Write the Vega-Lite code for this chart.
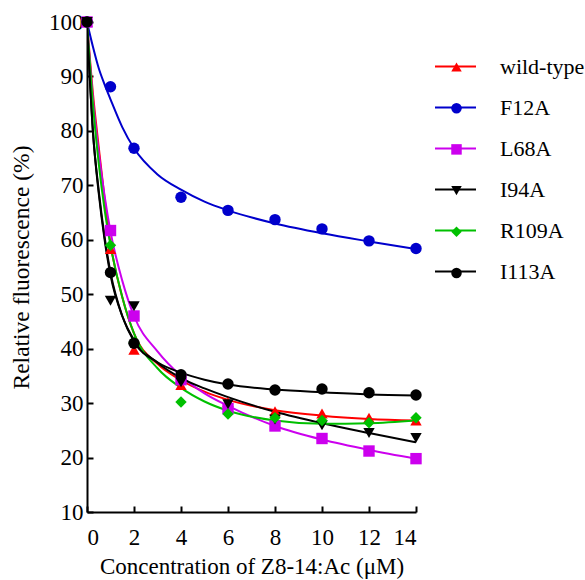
{
  "$schema": "https://vega.github.io/schema/vega-lite/v6.json",
  "autosize": {"type": "none"},
  "width": 329,
  "height": 490,
  "padding": {"left": 87, "top": 22, "right": 169, "bottom": 68},
  "background": "white",
  "config": {"view": {"stroke": null}, "font": "Liberation Serif"},
  "datasets": {
    "fit": [
      {"series": "wild-type", "x": 0, "y": 100}, {"series": "wild-type", "x": 0.25, "y": 87}, {"series": "wild-type", "x": 0.5, "y": 77}, {"series": "wild-type", "x": 0.75, "y": 67.5}, {"series": "wild-type", "x": 1, "y": 59.3}, {"series": "wild-type", "x": 1.5, "y": 49.5}, {"series": "wild-type", "x": 2, "y": 42.8}, {"series": "wild-type", "x": 3, "y": 37.2}, {"series": "wild-type", "x": 4, "y": 34.2}, {"series": "wild-type", "x": 5, "y": 32.1}, {"series": "wild-type", "x": 6, "y": 30.6}, {"series": "wild-type", "x": 8, "y": 28.7}, {"series": "wild-type", "x": 10, "y": 27.7}, {"series": "wild-type", "x": 12, "y": 27.1}, {"series": "wild-type", "x": 14, "y": 26.8},
      {"series": "F12A", "x": 0, "y": 100}, {"series": "F12A", "x": 0.25, "y": 95.5}, {"series": "F12A", "x": 0.5, "y": 91.5}, {"series": "F12A", "x": 0.75, "y": 88.5}, {"series": "F12A", "x": 1, "y": 85.8}, {"series": "F12A", "x": 1.5, "y": 80.7}, {"series": "F12A", "x": 2, "y": 76.8}, {"series": "F12A", "x": 3, "y": 72}, {"series": "F12A", "x": 4, "y": 69.2}, {"series": "F12A", "x": 5, "y": 67}, {"series": "F12A", "x": 6, "y": 65.4}, {"series": "F12A", "x": 8, "y": 63}, {"series": "F12A", "x": 10, "y": 61.2}, {"series": "F12A", "x": 12, "y": 59.7}, {"series": "F12A", "x": 14, "y": 58.3},
      {"series": "L68A", "x": 0, "y": 100}, {"series": "L68A", "x": 0.25, "y": 86}, {"series": "L68A", "x": 0.5, "y": 76}, {"series": "L68A", "x": 0.75, "y": 68}, {"series": "L68A", "x": 1, "y": 61.5}, {"series": "L68A", "x": 1.5, "y": 52.5}, {"series": "L68A", "x": 2, "y": 46}, {"series": "L68A", "x": 3, "y": 39.5}, {"series": "L68A", "x": 4, "y": 35}, {"series": "L68A", "x": 5, "y": 31.8}, {"series": "L68A", "x": 6, "y": 29.5}, {"series": "L68A", "x": 8, "y": 25.8}, {"series": "L68A", "x": 10, "y": 23.3}, {"series": "L68A", "x": 12, "y": 21.4}, {"series": "L68A", "x": 14, "y": 19.8},
      {"series": "I94A", "x": 0, "y": 100}, {"series": "I94A", "x": 0.25, "y": 80}, {"series": "I94A", "x": 0.5, "y": 68.5}, {"series": "I94A", "x": 0.75, "y": 60}, {"series": "I94A", "x": 1, "y": 53.5}, {"series": "I94A", "x": 1.5, "y": 46}, {"series": "I94A", "x": 2, "y": 41.6}, {"series": "I94A", "x": 3, "y": 37.4}, {"series": "I94A", "x": 4, "y": 34.6}, {"series": "I94A", "x": 5, "y": 32.7}, {"series": "I94A", "x": 6, "y": 31.1}, {"series": "I94A", "x": 8, "y": 28.4}, {"series": "I94A", "x": 10, "y": 26.3}, {"series": "I94A", "x": 12, "y": 24.5}, {"series": "I94A", "x": 14, "y": 22.8},
      {"series": "R109A", "x": 0, "y": 100}, {"series": "R109A", "x": 0.25, "y": 85}, {"series": "R109A", "x": 0.5, "y": 74}, {"series": "R109A", "x": 0.75, "y": 65.5}, {"series": "R109A", "x": 1, "y": 59}, {"series": "R109A", "x": 1.5, "y": 49.5}, {"series": "R109A", "x": 2, "y": 42.8}, {"series": "R109A", "x": 3, "y": 36.4}, {"series": "R109A", "x": 4, "y": 32.8}, {"series": "R109A", "x": 5, "y": 30.3}, {"series": "R109A", "x": 6, "y": 28.6}, {"series": "R109A", "x": 8, "y": 26.8}, {"series": "R109A", "x": 10, "y": 26.2}, {"series": "R109A", "x": 12, "y": 26.3}, {"series": "R109A", "x": 14, "y": 26.8},
      {"series": "I113A", "x": 0, "y": 100}, {"series": "I113A", "x": 0.25, "y": 80}, {"series": "I113A", "x": 0.5, "y": 69}, {"series": "I113A", "x": 0.75, "y": 60.5}, {"series": "I113A", "x": 1, "y": 54}, {"series": "I113A", "x": 1.5, "y": 46}, {"series": "I113A", "x": 2, "y": 41.3}, {"series": "I113A", "x": 3, "y": 37.5}, {"series": "I113A", "x": 4, "y": 35.6}, {"series": "I113A", "x": 5, "y": 34.3}, {"series": "I113A", "x": 6, "y": 33.4}, {"series": "I113A", "x": 8, "y": 32.5}, {"series": "I113A", "x": 10, "y": 32}, {"series": "I113A", "x": 12, "y": 31.6}, {"series": "I113A", "x": 14, "y": 31.4}
    ],
    "pts": [
      {"series": "wild-type", "x": 0, "y": 100}, {"series": "wild-type", "x": 1, "y": 58.3}, {"series": "wild-type", "x": 2, "y": 39.8}, {"series": "wild-type", "x": 4, "y": 33.3}, {"series": "wild-type", "x": 6, "y": 30.2}, {"series": "wild-type", "x": 8, "y": 28.5}, {"series": "wild-type", "x": 10, "y": 28.1}, {"series": "wild-type", "x": 12, "y": 27.3}, {"series": "wild-type", "x": 14, "y": 26.8},
      {"series": "F12A", "x": 0, "y": 100}, {"series": "F12A", "x": 1, "y": 88.1}, {"series": "F12A", "x": 2, "y": 76.8}, {"series": "F12A", "x": 4, "y": 67.8}, {"series": "F12A", "x": 6, "y": 65.4}, {"series": "F12A", "x": 8, "y": 63.7}, {"series": "F12A", "x": 10, "y": 62}, {"series": "F12A", "x": 12, "y": 59.8}, {"series": "F12A", "x": 14, "y": 58.4},
      {"series": "L68A", "x": 0, "y": 100}, {"series": "L68A", "x": 1, "y": 61.7}, {"series": "L68A", "x": 2, "y": 46}, {"series": "L68A", "x": 4, "y": 34.3}, {"series": "L68A", "x": 6, "y": 29}, {"series": "L68A", "x": 8, "y": 25.8}, {"series": "L68A", "x": 10, "y": 23.5}, {"series": "L68A", "x": 12, "y": 21.2}, {"series": "L68A", "x": 14, "y": 19.8},
      {"series": "I94A", "x": 0, "y": 100}, {"series": "I94A", "x": 1, "y": 48.8}, {"series": "I94A", "x": 2, "y": 47.8}, {"series": "I94A", "x": 4, "y": 33.8}, {"series": "I94A", "x": 6, "y": 29.8}, {"series": "I94A", "x": 8, "y": 27}, {"series": "I94A", "x": 10, "y": 25.9}, {"series": "I94A", "x": 12, "y": 24.5}, {"series": "I94A", "x": 14, "y": 23.6},
      {"series": "R109A", "x": 0, "y": 100}, {"series": "R109A", "x": 1, "y": 59}, {"series": "R109A", "x": 2, "y": 41.2}, {"series": "R109A", "x": 4, "y": 30.2}, {"series": "R109A", "x": 6, "y": 28}, {"series": "R109A", "x": 8, "y": 27.3}, {"series": "R109A", "x": 10, "y": 26.8}, {"series": "R109A", "x": 12, "y": 26.4}, {"series": "R109A", "x": 14, "y": 27.3},
      {"series": "I113A", "x": 0, "y": 100}, {"series": "I113A", "x": 1, "y": 54}, {"series": "I113A", "x": 2, "y": 41}, {"series": "I113A", "x": 4, "y": 35.2}, {"series": "I113A", "x": 6, "y": 33.5}, {"series": "I113A", "x": 8, "y": 32.4}, {"series": "I113A", "x": 10, "y": 32.6}, {"series": "I113A", "x": 12, "y": 31.9}, {"series": "I113A", "x": 14, "y": 31.5}
    ]
  },
  "resolve": {
    "scale": {"color": "independent", "shape": "independent"},
    "legend": {"color": "independent", "shape": "independent"}
  },
  "encoding": {
    "x": {
      "field": "x", "type": "quantitative",
      "scale": {"domain": [0, 14], "nice": false},
      "axis": {
        "values": [0, 2, 4, 6, 8, 10, 12, 14],
        "title": "Concentration of Z8-14:Ac (μM)",
        "grid": false, "domainColor": "black", "domainWidth": 2,
        "tickColor": "black", "tickWidth": 2, "tickSize": -6,
        "labelFont": "Liberation Serif", "labelFontSize": 23, "labelColor": "black", "labelPadding": 20,
        "titleFont": "Liberation Serif", "titleFontSize": 23, "titleFontWeight": "normal", "titleColor": "black", "titlePadding": 6
      }
    },
    "y": {
      "field": "y", "type": "quantitative",
      "scale": {"domain": [10, 100], "nice": false, "zero": false},
      "axis": {
        "values": [10, 20, 30, 40, 50, 60, 70, 80, 90, 100],
        "title": "Relative fluorescence (%)",
        "grid": false, "domainColor": "black", "domainWidth": 2,
        "tickColor": "black", "tickWidth": 2, "tickSize": -6,
        "labelFont": "Liberation Serif", "labelFontSize": 23, "labelColor": "black", "labelPadding": 10,
        "titleFont": "Liberation Serif", "titleFontSize": 23.5, "titleFontWeight": "normal", "titleColor": "black", "titlePadding": 15
      }
    }
  },
  "layer": [
    {
      "data": {"name": "fit"},
      "mark": {"type": "line", "strokeWidth": 2, "interpolate": "monotone", "clip": true},
      "encoding": {
        "color": {
          "field": "series", "type": "nominal",
          "scale": {"domain": ["wild-type", "F12A", "L68A", "I94A", "R109A", "I113A"], "range": ["#FF0000", "#0000CC", "#CC00EE", "#000000", "#00C000", "#000000"]},
          "legend": {
            "title": null, "orient": "none", "legendX": 347, "legendY": 23,
            "symbolType": "stroke", "symbolSize": 1681, "symbolStrokeWidth": 2,
            "labelFont": "Liberation Serif", "labelFontSize": 22, "labelColor": "black", "labelOffset": 23,
            "rowPadding": 8, "padding": 0
          }
        }
      }
    },
    {
      "data": {"name": "pts"},
      "mark": {"type": "point", "filled": true, "size": 130, "opacity": 1},
      "encoding": {
        "color": {
          "field": "series", "type": "nominal",
          "scale": {"domain": ["wild-type", "F12A", "L68A", "I94A", "R109A", "I113A"], "range": ["#FF0000", "#0000CC", "#CC00EE", "#000000", "#00C000", "#000000"]},
          "legend": {
            "title": null, "orient": "none", "legendX": 358, "legendY": 33.5,
            "symbolSize": 110, "symbolStrokeWidth": 0, "symbolOpacity": 1,
            "labelExpr": "''", "labelFontSize": 23,
            "rowPadding": 17.2, "padding": 0
          }
        },
        "shape": {
          "field": "series", "type": "nominal",
          "scale": {"domain": ["wild-type", "F12A", "L68A", "I94A", "R109A", "I113A"], "range": ["triangle-up", "circle", "square", "triangle-down", "diamond", "circle"]},
          "legend": {
            "title": null, "orient": "none", "legendX": 358, "legendY": 33.5,
            "symbolSize": 110, "symbolStrokeWidth": 0, "symbolOpacity": 1,
            "labelExpr": "''", "labelFontSize": 23,
            "rowPadding": 17.2, "padding": 0
          }
        }
      }
    }
  ]
}
